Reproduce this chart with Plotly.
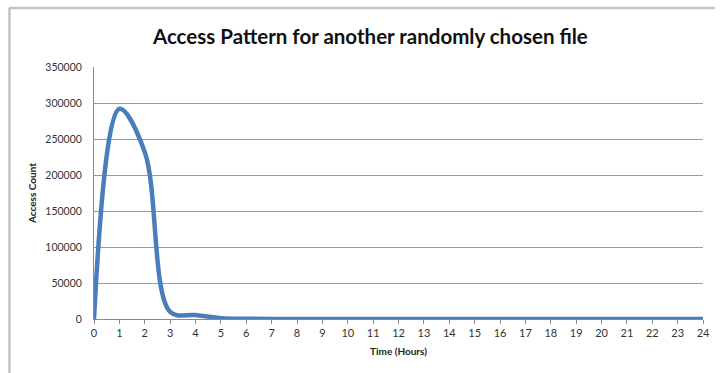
import plotly.graph_objects as go

# Hourly access counts for the file
hours = list(range(0, 25))
access_count = [0, 292000, 232000, 10000, 5500, 1200, 300, 0, 0, 0, 0, 0, 0,
                0, 0, 0, 0, 0, 0, 0, 0, 0, 0, 0, 0]
y_ticks = [0, 50000, 100000, 150000, 200000, 250000, 300000, 350000]

W, H = 722, 373
L, R, T, B = 94, 12, 67, 54

fig = go.Figure()
fig.add_trace(go.Scatter(
    x=hours, y=access_count, mode="lines",
    line=dict(color="#4a7ebb", width=4.5, shape="spline", smoothing=1.0),
    hoverinfo="x+y",
))

def px_to_paper_x(px):
    return (px - L) / (W - L - R)

def px_to_paper_y(py):
    return (H - B - py) / (H - T - B)

# Chart frame lines (top and left edges)
frame = dict(type="line", xref="paper", yref="paper",
             line=dict(color="#c4c4c4", width=2.5))
fig.add_shape(**frame, x0=px_to_paper_x(8), x1=px_to_paper_x(722),
              y0=px_to_paper_y(8), y1=px_to_paper_y(8))
fig.add_shape(**frame, x0=px_to_paper_x(8.5), x1=px_to_paper_x(8.5),
              y0=px_to_paper_y(8), y1=px_to_paper_y(373))

fig.update_layout(
    width=W, height=H,
    margin=dict(l=L, r=R, t=T, b=B),
    paper_bgcolor="white", plot_bgcolor="white",
    showlegend=False,
    font=dict(family="Lato, 'Open Sans', sans-serif", color="#333333"),
    title=dict(text="<b>Access Pattern for another randomly chosen file</b>",
               x=0.513, xanchor="center", y=0.9, yanchor="middle",
               font=dict(size=20.5, color="#111111")),
    xaxis=dict(
        range=[0, 24], tickmode="array", tickvals=hours,
        ticktext=[str(h) for h in hours],
        showgrid=False, zeroline=False,
        showline=True, linecolor="#8a8a8a", linewidth=1,
        ticks="outside", ticklen=4, tickcolor="#8a8a8a",
        tickfont=dict(size=11, color="#333333"),
        title=dict(text="<b>Time (Hours)</b>", font=dict(size=10, color="#222222"),
                   standoff=9),
    ),
    yaxis=dict(
        range=[0, 350000], tickmode="array", tickvals=y_ticks,
        ticktext=[str(v) for v in y_ticks],
        showgrid=True, gridcolor="#9a9a9a", gridwidth=1,
        zeroline=False,
        showline=True, linecolor="#8a8a8a", linewidth=1,
        ticks="", ticklabelstandoff=9,
        tickfont=dict(size=10.5, color="#333333"),
        title=dict(text="<b>Access Count</b>", font=dict(size=10, color="#222222"),
                   standoff=6),
    ),
)

fig.write_html("out.html")
